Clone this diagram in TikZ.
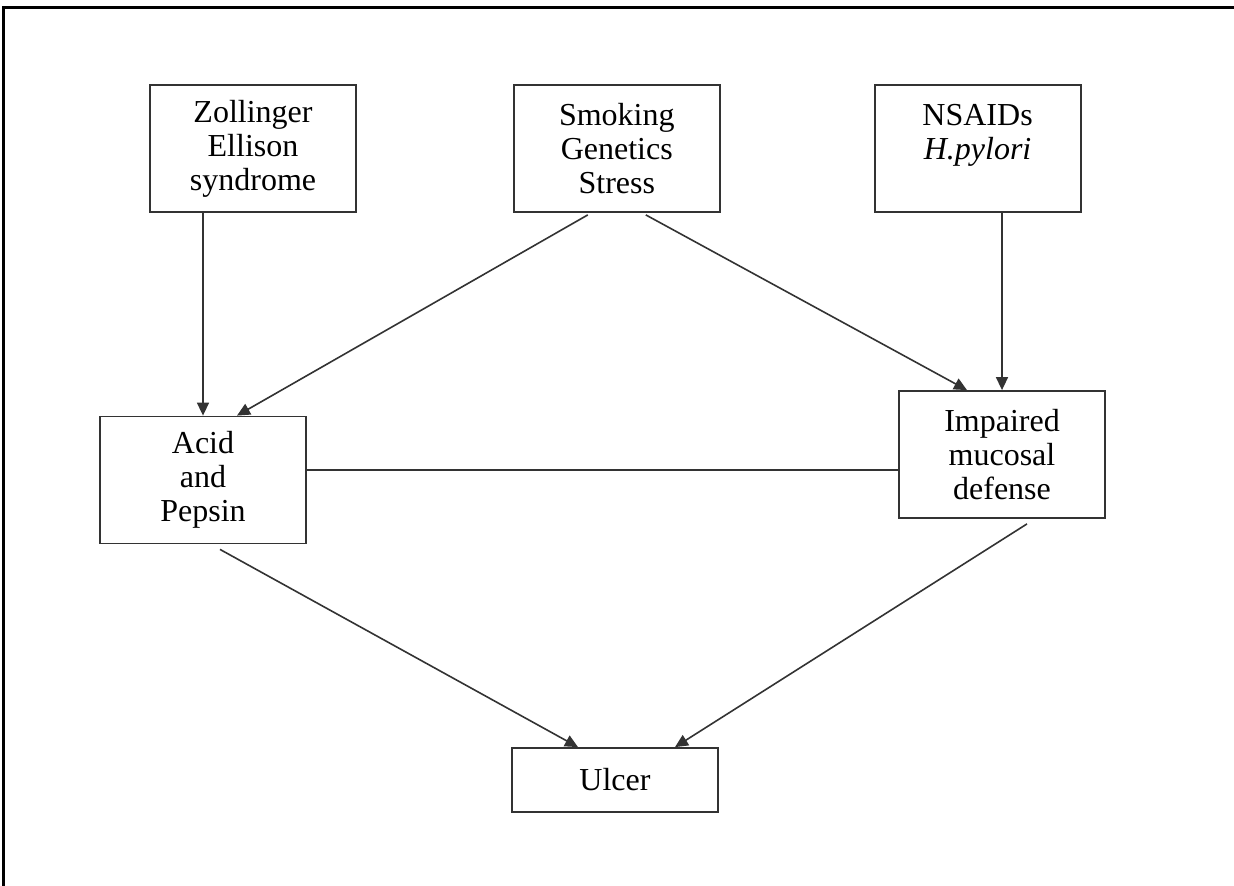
\documentclass[tikz,border=0pt]{standalone}
\usepackage{fontspec}
\setmainfont{Liberation Serif}
\usepackage{tikz}
\usetikzlibrary{positioning,arrows.meta}

\begin{document}
\begin{tikzpicture}[x=1pt,y=-1pt,
        causebox/.style={rectangle, draw=black!80, line width=1.8pt, fill=white, minimum width=206pt, minimum height=127pt, align=center, font=\fontsize{32}{34}\selectfont},
        flow/.style={draw=black!80, line width=1.6pt, -{Triangle[length=13pt,width=12pt]}}]

        \useasboundingbox (0,0) rectangle (1234,886);
        \draw[line width=3pt] (3,886) -- (3,7) -- (1234,7);

        \node[causebox] (zes) at (253,148.5) {Zollinger\\Ellison\\syndrome};
        \node[causebox] (smk) [right=156pt of zes] {Smoking\\Genetics\\Stress};
        \node[causebox] (nsd) [right=153pt of smk] {NSAIDs\\\textit{H.pylori}\\\mbox{}};
        \node[causebox] (acid) at (203,480) {Acid\\and\\Pepsin};
        \node[causebox] (imp) at (1002,454.5) {Impaired\\mucosal\\defense};
        \node[causebox, minimum height=64pt] (ulc) at (615,780) {Ulcer};

        \draw[flow] (acid.north |- zes.south) -- (acid.north);
        \draw[flow] ([xshift=-29pt,yshift=-2pt]smk.south) -- ([xshift=34pt]acid.north);
        \draw[flow] ([xshift=29pt,yshift=-2pt]smk.south) -- ([xshift=-35pt]imp.north);
        \draw[flow] (imp.north |- nsd.south) -- (imp.north);
        \draw[draw=black!80, line width=1.6pt] ([yshift=10pt]acid.east) -- ([yshift=10pt]acid.east -| imp.west);
        \draw[flow] ([xshift=17pt,yshift=-5pt]acid.south) -- ([xshift=-37pt]ulc.north);
        \draw[flow] ([xshift=25pt,yshift=-5pt]imp.south) -- ([xshift=60pt]ulc.north);

\end{tikzpicture}
\end{document}
